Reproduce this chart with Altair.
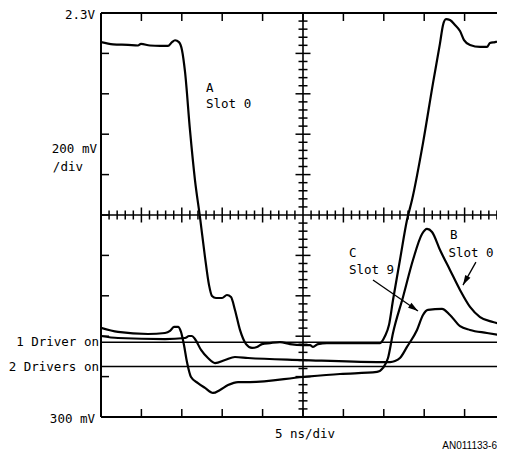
import altair as alt
import pandas as pd

# x: time in ns (5 ns/div), y: voltage in V (200 mV/div, 0.3 V .. 2.3 V)
a_t = [0, 1.49, 3.34, 4.58, 4.95, 6.06, 7.30, 8.29, 8.79, 9.16, 9.65, 10.02, 10.40, 11.01, 11.63,
       12.25, 12.87, 13.37, 13.74, 14.23, 14.98, 15.59, 16.09, 16.58, 17.20, 17.95, 18.69, 19.31,
       19.93, 20.92, 22.15, 23.39, 25.0, 25.87, 26.24, 26.86, 27.97, 30.82, 34.53, 35.15, 35.64,
       36.14, 37.0, 37.87, 38.49, 39.85, 41.09, 41.96, 42.33, 42.70, 43.19, 43.81, 44.43, 44.93,
       45.67, 46.91, 47.77, 48.14, 48.76, 50.0]
a_v = [2.156, 2.145, 2.142, 2.139, 2.147, 2.139, 2.137, 2.137, 2.156, 2.165, 2.156, 2.117, 2.008,
       1.721, 1.473, 1.290, 1.092, 0.953, 0.899, 0.889, 0.889, 0.904, 0.894, 0.830, 0.731, 0.661,
       0.642, 0.647, 0.661, 0.666, 0.671, 0.661, 0.656, 0.656, 0.647, 0.661, 0.666, 0.666, 0.666,
       0.701, 0.755, 0.879, 1.077, 1.275, 1.374, 1.656, 1.953, 2.151, 2.241, 2.270, 2.265, 2.241,
       2.211, 2.166, 2.142, 2.132, 2.132, 2.151, 2.156, 2.171]

b_t = [0, 2.10, 5.82, 7.92, 8.54, 9.03, 9.53, 9.90, 10.27, 10.64, 11.14, 12.0, 12.87, 13.86, 14.73,
       15.72, 16.96, 18.44, 25.0, 29.58, 34.16, 34.90, 35.52, 36.14, 37.38, 38.61, 39.73, 40.35,
       40.97, 41.96, 43.19, 44.43, 45.67, 46.91, 48.51, 50.0]
b_v = [0.741, 0.721, 0.711, 0.716, 0.726, 0.746, 0.746, 0.721, 0.656, 0.572, 0.498, 0.468, 0.444,
       0.419, 0.434, 0.458, 0.473, 0.473, 0.498, 0.513, 0.523, 0.543, 0.592, 0.716, 0.894, 1.077,
       1.206, 1.231, 1.216, 1.127, 1.028, 0.929, 0.845, 0.795, 0.770, 0.755]

c_t = [0, 2.10, 7.92, 10.40, 10.89, 11.26, 11.63, 12.38, 13.24, 14.11, 15.35, 16.58, 18.19, 25.0,
       34.16, 35.77, 36.39, 37.0, 37.87, 39.11, 39.85, 40.47, 42.20, 43.19, 44.43, 45.67, 47.77, 50.0]
c_v = [0.701, 0.691, 0.686, 0.691, 0.701, 0.701, 0.686, 0.632, 0.592, 0.567, 0.582, 0.597, 0.592,
       0.582, 0.572, 0.572, 0.577, 0.592, 0.647, 0.731, 0.805, 0.830, 0.835, 0.805, 0.750, 0.731,
       0.716, 0.701]

level_v = [0.67, 0.55]          # "1 Driver on", "2 Drivers on"
level_labels = ["1 Driver on", "2 Drivers on"]

div_t = [5, 10, 15, 20, 25, 30, 35, 40, 45]
div_v = [0.5, 0.7, 0.9, 1.1, 1.3, 1.5, 1.7, 1.9, 2.1]
minor_t = [i for i in range(1, 50) if i % 5 != 0]
minor_v = [round(0.3 + 0.04 * i, 3) for i in range(1, 50) if i % 5 != 0]
major_t = [5, 10, 15, 20, 30, 35, 40, 45]
major_v = [0.5, 0.7, 0.9, 1.1, 1.5, 1.7, 1.9, 2.1]

# the original screen is cropped a few pixels before its right edge (t = 50 ns)
T_VISIBLE = 50 * 396 / 404
XS = alt.Scale(domain=[0, T_VISIBLE], nice=False, zero=False)
YS = alt.Scale(domain=[0.3, 2.3], nice=False, zero=False)


def X(f="t"):
    return alt.X(f"{f}:Q", scale=XS, axis=None)


def Y(f="v"):
    return alt.Y(f"{f}:Q", scale=YS, axis=None)


curves = pd.concat([
    pd.DataFrame({"t": a_t, "v": a_v, "s": "A"}),
    pd.DataFrame({"t": b_t, "v": b_v, "s": "B"}),
    pd.DataFrame({"t": c_t, "v": c_v, "s": "C"}),
])

curve_layer = alt.Chart(curves).mark_line(
    color="black", strokeWidth=2.2, interpolate="monotone", clip=True
).encode(x=X(), y=Y(), detail="s:N")

levels = pd.DataFrame({"v": level_v, "t0": [0, 0], "t1": [50, 50], "lab": level_labels})
level_layer = alt.Chart(levels).mark_rule(color="black", strokeWidth=1.6).encode(
    y=Y(), x=X("t0"), x2="t1:Q"
)

# frame (top, bottom, left) and centre cross-hair
hlines = pd.DataFrame({"v": [2.3, 0.3, 1.3], "t0": [0, 0, 0], "t1": [50, 50, 50],
                       "w": [2.0, 2.0, 1.6]})
vlines = pd.DataFrame({"t": [0, 25], "v0": [0.3, 0.3], "v1": [2.3, 2.3], "w": [2.0, 1.6]})
hline_layer = alt.Chart(hlines).mark_rule(color="black").encode(
    y=Y(), x=X("t0"), x2="t1:Q", strokeWidth=alt.StrokeWidth("w:Q", scale=None))
vline_layer = alt.Chart(vlines).mark_rule(color="black").encode(
    x=X(), y=Y("v0"), y2="v1:Q", strokeWidth=alt.StrokeWidth("w:Q", scale=None))


def tick_layer(ts, vs, orient, size):
    df = pd.DataFrame({"t": ts, "v": vs})
    return alt.Chart(df).mark_tick(
        color="black", orient=orient, size=size, thickness=1.5, opacity=1, clip=True
    ).encode(x=X(), y=Y())


ticks = [
    tick_layer(div_t, [2.3] * len(div_t), "vertical", 16),
    tick_layer(div_t, [0.3] * len(div_t), "vertical", 16),
    tick_layer([0] * len(div_v), div_v, "horizontal", 16),
    tick_layer(minor_t, [1.3] * len(minor_t), "vertical", 9),
    tick_layer(major_t, [1.3] * len(major_t), "vertical", 15),
    tick_layer([25] * len(minor_v), minor_v, "horizontal", 9),
    tick_layer([25] * len(major_v), major_v, "horizontal", 15),
]

FONT = "DejaVu Sans Mono"

left_labels = pd.DataFrame({
    "t": [-0.74, -0.50, -2.23, -0.74, -0.25, -0.25],
    "v": [2.29, 1.627, 1.538, 0.29, level_v[0], level_v[1]],
    "lab": ["2.3V", "200 mV", "/div", "300 mV", level_labels[0], level_labels[1]],
})
left_text = alt.Chart(left_labels).mark_text(
    align="right", baseline="middle", font=FONT, fontSize=12.5, color="black"
).encode(x=X(), y=Y(), text="lab:N")

ann = pd.DataFrame({
    "t": [13.0, 13.0, 30.69, 30.69, 43.2, 43.0],
    "v": [1.929, 1.850, 1.112, 1.028, 1.201, 1.112],
    "lab": ["A", "Slot 0", "C", "Slot 9", "B", "Slot 0"],
})
ann_text = alt.Chart(ann).mark_text(
    align="left", baseline="middle", font=FONT, fontSize=12.5, color="black"
).encode(x=X(), y=Y(), text="lab:N")

xlab = pd.DataFrame({"t": [25.25], "v": [0.216], "lab": ["5 ns/div"]})
xlab_text = alt.Chart(xlab).mark_text(
    align="center", baseline="middle", font=FONT, fontSize=12.5, color="black"
).encode(x=X(), y=Y(), text="lab:N")

code = pd.DataFrame({"t": [T_VISIBLE], "v": [0.158], "lab": ["AN011133-6"]})
code_text = alt.Chart(code).mark_text(
    align="right", baseline="middle", font="Liberation Sans", fontSize=10, color="black"
).encode(x=X(), y=Y(), text="lab:N")

arrows = pd.DataFrame({
    "t": [33.66, 46.4], "v": [0.978, 1.067],
    "t2": [39.23, 44.80], "v2": [0.825, 0.953],
    "ang": [124.6, 209.0],
})
arrow_lines = alt.Chart(arrows).mark_rule(color="black", strokeWidth=1.3).encode(
    x=X(), y=Y(), x2="t2:Q", y2="v2:Q")
arrow_heads = alt.Chart(arrows).mark_point(
    shape="M0,0L-0.6,2L0.6,2Z", size=100, filled=True, color="black", opacity=1
).encode(x=X("t2"), y=Y("v2"), angle=alt.Angle("ang:Q", scale=None))

chart = alt.layer(
    level_layer, hline_layer, vline_layer, *ticks, curve_layer,
    left_text, ann_text, xlab_text, code_text, arrow_lines, arrow_heads
).properties(
    width=396, height=404,
    padding={"left": 93, "top": 5, "right": 0, "bottom": 33},
    autosize=alt.AutoSizeParams(type="none"),
    background="white",
).configure_view(strokeWidth=0)

chart.save("out.html", embed_options={"renderer": "svg", "actions": False})
